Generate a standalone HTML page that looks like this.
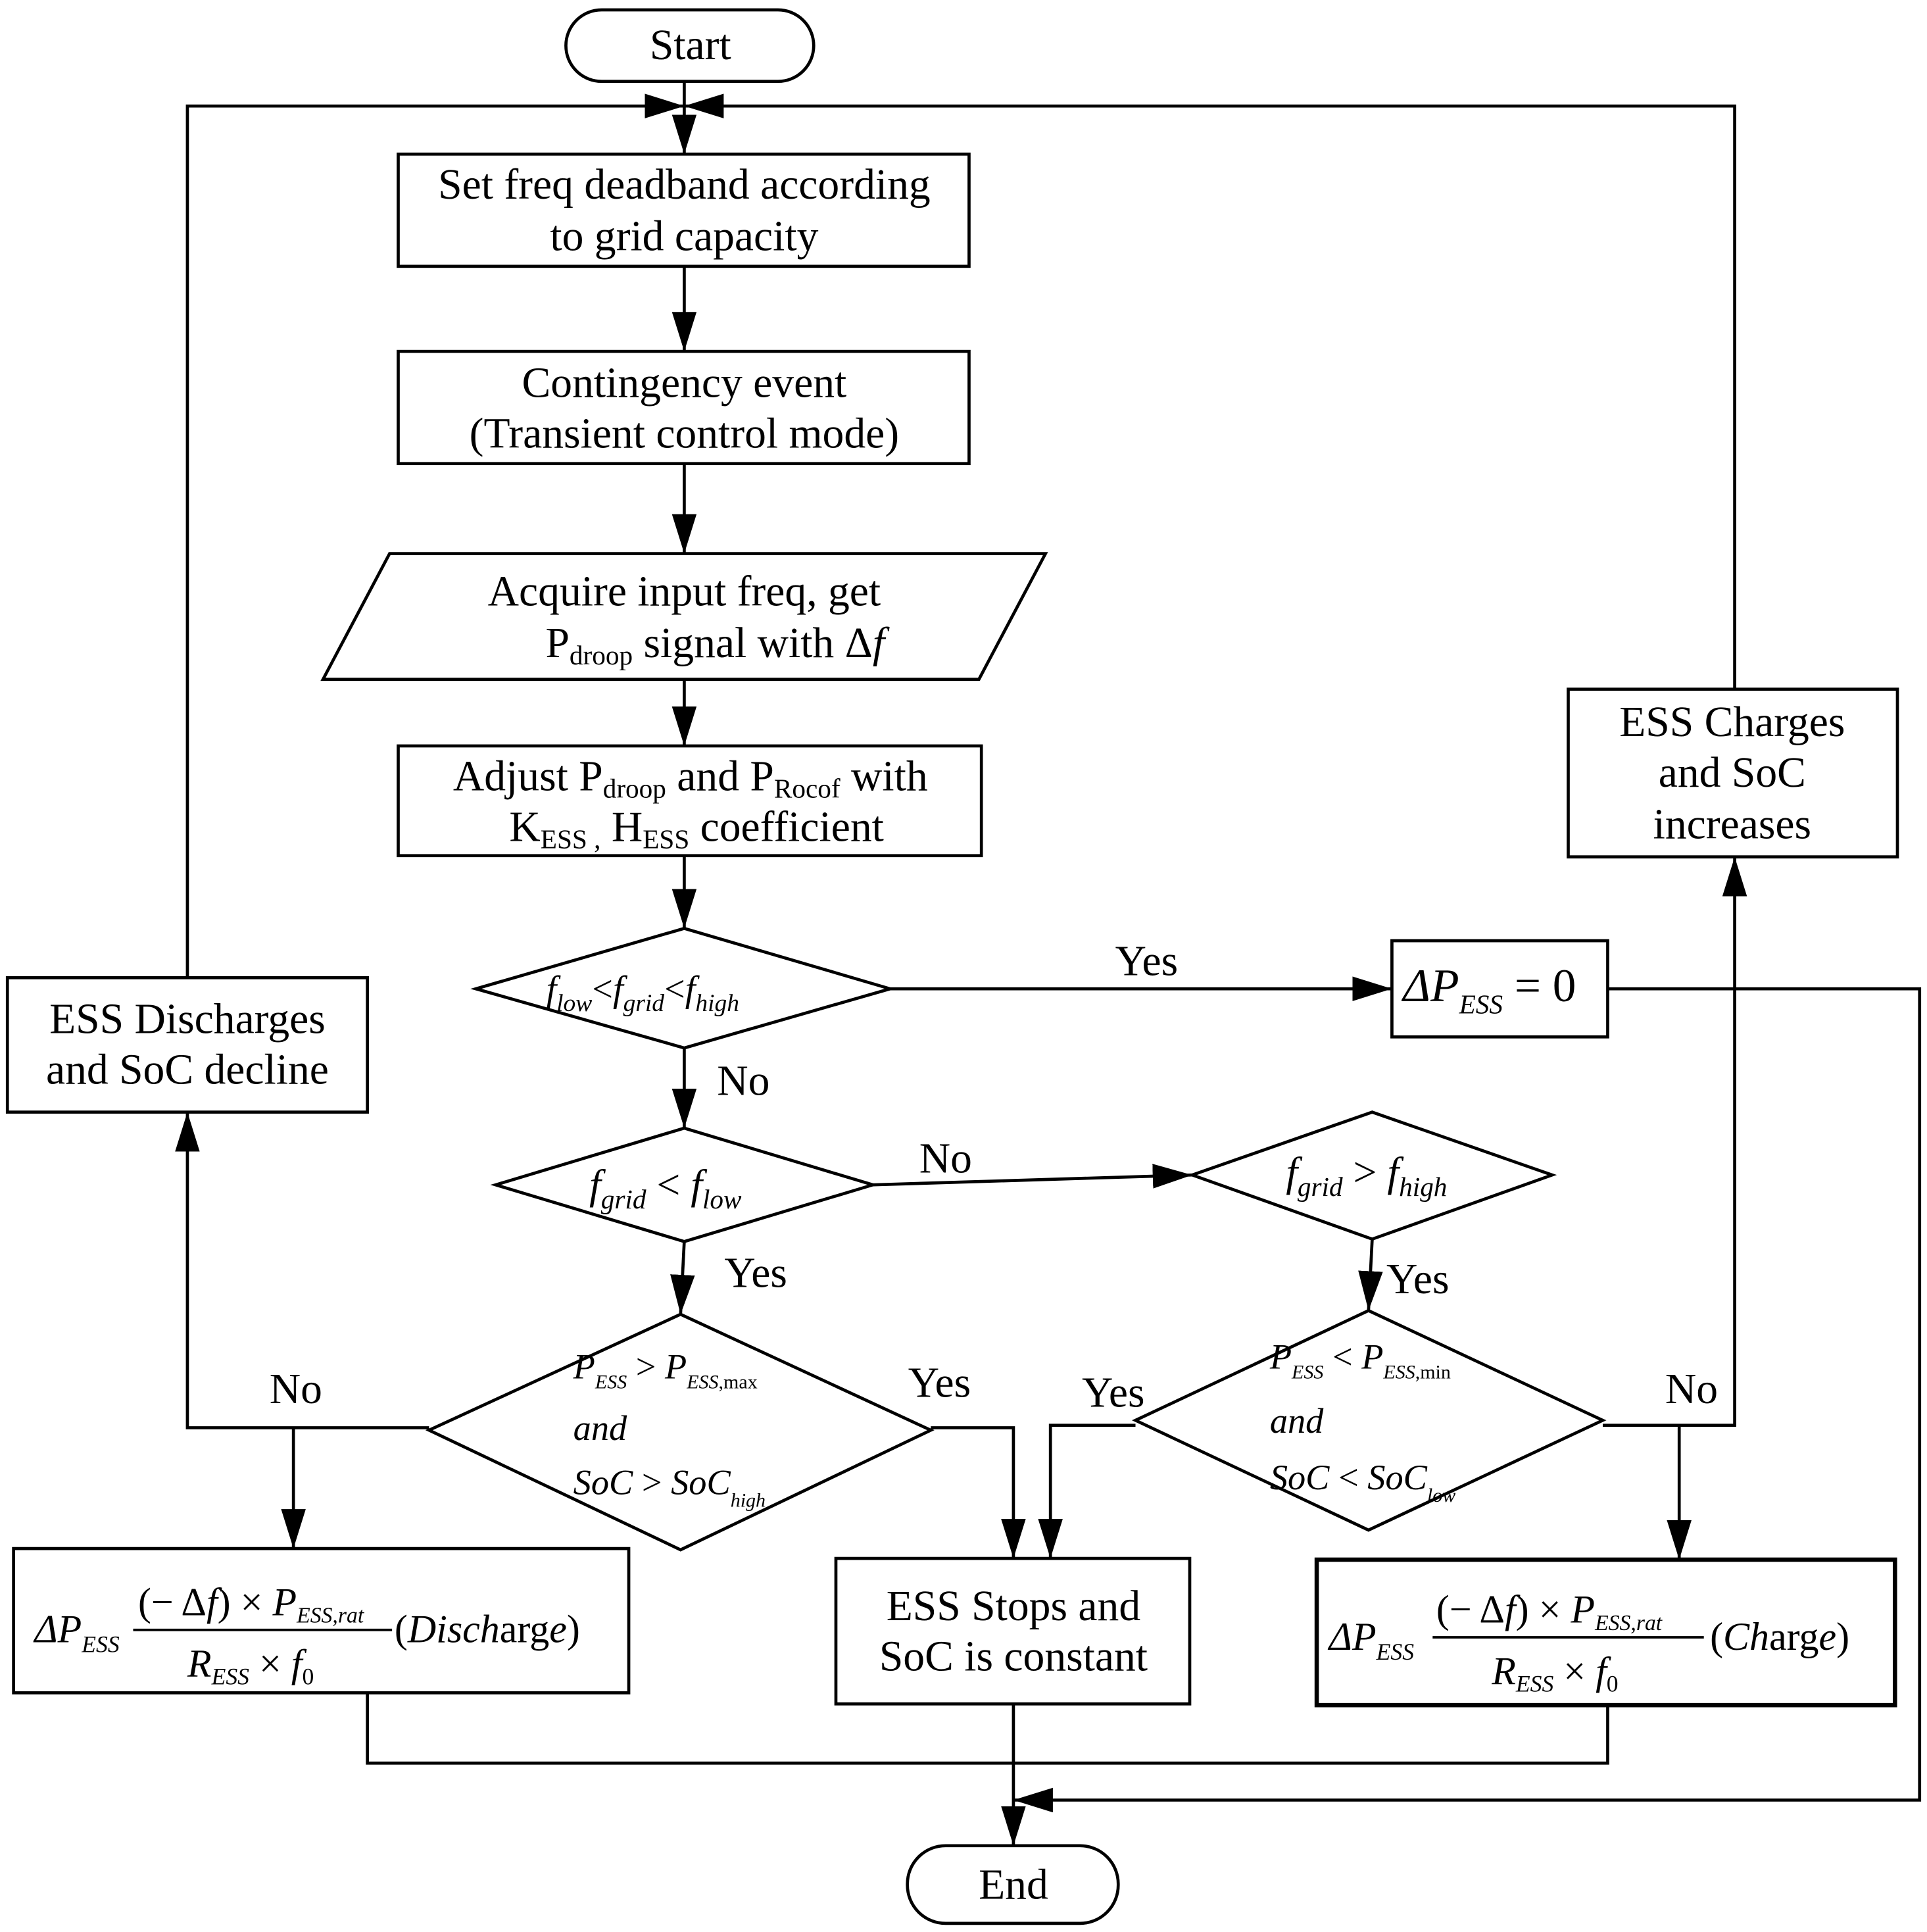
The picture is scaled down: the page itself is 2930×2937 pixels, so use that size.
<!DOCTYPE html>
<html><head><meta charset="utf-8"><style>html,body{margin:0;padding:0;background:#fff}svg{display:block}</style></head>
<body>
<svg width="2930" height="2937" viewBox="0 0 1563 1567" preserveAspectRatio="none" xmlns="http://www.w3.org/2000/svg" font-family="'Liberation Serif', serif" font-size="35" fill="#000">
<defs>
<marker id="b" viewBox="0 0 32 20" refX="32" refY="10" markerWidth="32" markerHeight="20" orient="auto" markerUnits="userSpaceOnUse"><path d="M0,0 L32,10 L0,20z"/></marker></defs>
<g stroke="#000" stroke-width="2.5" fill="none">
<rect x="459" y="8" width="201" height="58" rx="29"/>
<rect x="736" y="1497" width="171" height="63" rx="31"/>
<rect x="323" y="125" width="463" height="91"/>
<rect x="323" y="285" width="463" height="91"/>
<polygon points="316,449 848,449 794,551 262,551"/>
<rect x="323" y="605" width="473" height="89"/>
<polygon points="386,802 555,753 722,802 555,850"/>
<rect x="1129" y="763" width="175" height="78"/>
<polygon points="402,961 555,915 708,961 555,1007"/>
<polygon points="967,953 1113,902 1259,953 1113,1005"/>
<polygon points="348,1160 552,1066 755,1160 552,1257"/>
<polygon points="921,1152 1110,1063 1300,1152 1110,1241"/>
<rect x="6" y="793" width="292" height="109"/>
<rect x="1272" y="559" width="267" height="136"/>
<rect x="11" y="1256" width="499" height="117"/>
<rect x="678" y="1264" width="287" height="118"/>
<rect x="1068" y="1265" width="469" height="118" stroke-width="3.5"/>
<path d="M555,66 V86"/>
<path d="M555,86 V125" marker-end="url(#b)"/>
<path d="M152,793 V86 H555" marker-end="url(#b)"/>
<path d="M1407,559 V86 H555" marker-end="url(#b)"/>
<path d="M555,216 V285" marker-end="url(#b)"/>
<path d="M555,376 V449" marker-end="url(#b)"/>
<path d="M555,551 V605" marker-end="url(#b)"/>
<path d="M555,694 V753" marker-end="url(#b)"/>
<path d="M722,802 H1129" marker-end="url(#b)"/>
<path d="M1304,802 H1557 V1460 H822" marker-end="url(#b)"/>
<path d="M555,850 V915" marker-end="url(#b)"/>
<path d="M708,961 L967,953" marker-end="url(#b)"/>
<path d="M555,1007 L552,1066" marker-end="url(#b)"/>
<path d="M1113,1005 L1110,1063" marker-end="url(#b)"/>
<path d="M348,1158 H152 V902" marker-end="url(#b)"/>
<path d="M238,1158 V1256" marker-end="url(#b)"/>
<path d="M755,1158 H822 V1264" marker-end="url(#b)"/>
<path d="M921,1156 H852 V1264" marker-end="url(#b)"/>
<path d="M1300,1156 H1407 V695" marker-end="url(#b)"/>
<path d="M1362,1156 V1265" marker-end="url(#b)"/>
<path d="M298,1373 V1430 H1304 V1383"/>
<path d="M822,1382 V1497" marker-end="url(#b)"/>
</g>
<g text-anchor="middle">
<text x="560" y="48">Start</text>
<text x="822" y="1540">End</text>
<text x="555" y="161">Set freq deadband according</text>
<text x="555" y="203">to grid capacity</text>
<text x="555" y="322">Contingency event</text>
<text x="555" y="363">(Transient control mode)</text>
<text x="555" y="491">Acquire input freq, get</text>
<text x="580" y="533">P<tspan font-size="22" dy="6">droop</tspan><tspan dy="-6"> signal with  Δ</tspan><tspan font-style="italic">f</tspan></text>
<text x="560" y="641">Adjust P<tspan font-size="22" dy="6">droop</tspan><tspan dy="-6"> and P</tspan><tspan font-size="22" dy="6">Rocof</tspan><tspan dy="-6"> with</tspan></text>
<text x="565" y="682">K<tspan font-size="22" dy="6">ESS  ,</tspan><tspan dy="-6"> H</tspan><tspan font-size="22" dy="6">ESS</tspan><tspan dy="-6"> coefficient</tspan></text>
<text x="152" y="838">ESS Discharges</text>
<text x="152" y="879">and SoC decline</text>
<text x="1405" y="597">ESS Charges</text>
<text x="1405" y="638">and SoC</text>
<text x="1405" y="680">increases</text>
<text x="822" y="1314">ESS Stops and</text>
<text x="822" y="1355">SoC is constant</text>
<text x="930" y="791">Yes</text>
<text x="603" y="888">No</text>
<text x="767" y="951">No</text>
<text x="613" y="1044">Yes</text>
<text x="1150" y="1049">Yes</text>
<text x="240" y="1138">No</text>
<text x="762" y="1133">Yes</text>
<text x="903" y="1141">Yes</text>
<text x="1372" y="1138">No</text>
</g>
<g font-style="italic">
<text x="443" y="812" font-size="30">f<tspan font-size="20" dy="8">low</tspan><tspan dy="-8" font-style="normal">&lt;</tspan>f<tspan font-size="20" dy="8">grid</tspan><tspan dy="-8" font-style="normal">&lt;</tspan>f<tspan font-size="20" dy="8">high</tspan></text>
<text x="1138" y="812" font-size="38">ΔP<tspan font-size="22" dy="10">ESS</tspan><tspan dy="-10" font-style="normal"> = 0</tspan></text>
<text x="478" y="972" font-size="34">f<tspan font-size="22" dy="8">grid</tspan><tspan dy="-8" font-style="normal"> &lt; </tspan>f<tspan font-size="22" dy="8">low</tspan></text>
<text x="1043" y="962" font-size="34">f<tspan font-size="22" dy="8">grid</tspan><tspan dy="-8" font-style="normal"> &gt; </tspan>f<tspan font-size="22" dy="8">high</tspan></text>
<text x="465" y="1118" font-size="29">P<tspan font-size="16" dy="8">ESS</tspan><tspan dy="-8" font-style="normal">  &gt; </tspan>P<tspan font-size="16" dy="8">ESS</tspan><tspan font-size="16" font-style="normal">,max</tspan></text>
<text x="465" y="1168" font-size="29">and</text>
<text x="465" y="1212" font-size="29">SoC <tspan font-style="normal">&gt;</tspan> SoC<tspan font-size="16" dy="10">high</tspan></text>
<text x="1030" y="1110" font-size="29">P<tspan font-size="16" dy="8">ESS</tspan><tspan dy="-8" font-style="normal">  &lt; </tspan>P<tspan font-size="16" dy="8">ESS</tspan><tspan font-size="16" font-style="normal">,min</tspan></text>
<text x="1030" y="1162" font-size="29">and</text>
<text x="1030" y="1208" font-size="29">SoC <tspan font-style="normal">&lt;</tspan> SoC<tspan font-size="16" dy="10">low</tspan></text>
<text x="28" y="1332" font-size="32">ΔP<tspan font-size="19" dy="8">ESS</tspan></text>
<text x="112" y="1310" font-size="32"><tspan font-style="normal">(− Δ</tspan>f<tspan font-style="normal">) × </tspan>P<tspan font-size="18" dy="6">ESS,rat</tspan></text>
<line x1="108" y1="1322" x2="318" y2="1322" stroke="#000" stroke-width="2"/>
<text x="152" y="1360" font-size="32">R<tspan font-size="19" dy="6">ESS</tspan><tspan dy="-6" font-style="normal"> × </tspan>f<tspan font-size="19" dy="6" font-style="normal">0</tspan></text>
<text x="320" y="1332" font-size="32"><tspan font-style="normal">(</tspan>Disch<tspan font-style="normal">arg</tspan>e<tspan font-style="normal">)</tspan></text>
<text x="1078" y="1338" font-size="32">ΔP<tspan font-size="19" dy="8">ESS</tspan></text>
<text x="1165" y="1316" font-size="32"><tspan font-style="normal">(− Δ</tspan>f<tspan font-style="normal">) × </tspan>P<tspan font-size="18" dy="6">ESS,rat</tspan></text>
<line x1="1162" y1="1328" x2="1382" y2="1328" stroke="#000" stroke-width="2"/>
<text x="1210" y="1366" font-size="32">R<tspan font-size="19" dy="6">ESS</tspan><tspan dy="-6" font-style="normal"> × </tspan>f<tspan font-size="19" dy="6" font-style="normal">0</tspan></text>
<text x="1387" y="1338" font-size="32"><tspan font-style="normal">(</tspan>Ch<tspan font-style="normal">arg</tspan>e<tspan font-style="normal">)</tspan></text>
</g>
</svg>
</body></html>
